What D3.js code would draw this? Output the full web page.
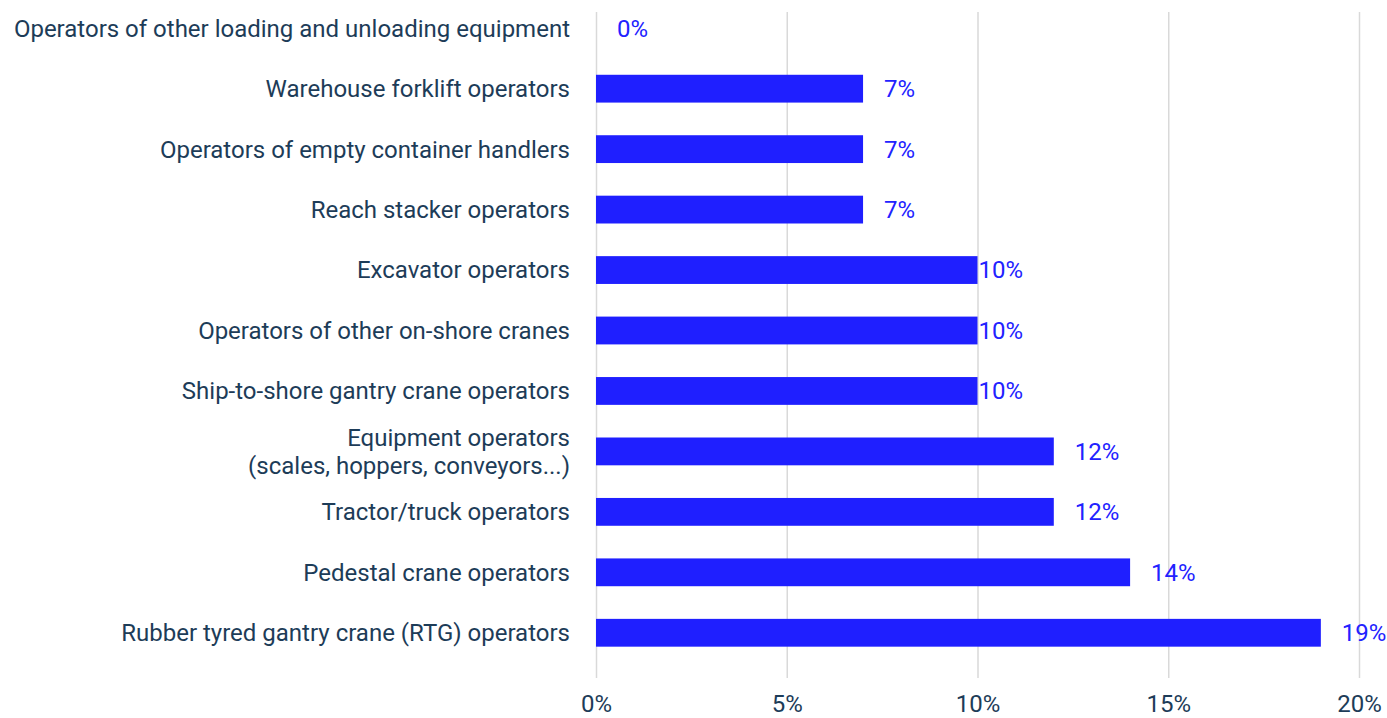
<!DOCTYPE html>
<html>
<head>
<meta charset="utf-8">
<script src="https://cdn.jsdelivr.net/npm/d3@7/dist/d3.min.js"></script>
<style>
  html, body { margin: 0; padding: 0; background: #ffffff; }
  svg { display: block; font-family: Roboto, "Noto Sans", sans-serif; }
</style>
</head>
<body>
<svg id="chart" width="1387" height="718"></svg>
<script>
// Share of respondents by equipment operator role (top to bottom)
const categories = [
  "Operators of other loading and unloading equipment",
  "Warehouse forklift operators",
  "Operators of empty container handlers",
  "Reach stacker operators",
  "Excavator operators",
  "Operators of other on-shore cranes",
  "Ship-to-shore gantry crane operators",
  "Equipment operators\n(scales, hoppers, conveyors...)",
  "Tractor/truck operators",
  "Pedestal crane operators",
  "Rubber tyred gantry crane (RTG) operators"
];
const values = [0, 7, 7, 7, 10, 10, 10, 12, 12, 14, 19];
const tickValues = [0, 5, 10, 15, 20];

const labelColor = "#1d3c58";
const valueColor = "#2222ff";
const barColor = "#1f1fff";
const gridColor = "#d9d9d9";
const fontSize = "24px";

const svg = d3.select("#chart");

const x = d3.scaleLinear().domain([0, 20]).range([596, 1359]);
const y = d3.scaleBand()
  .domain(categories)
  .range([-2, 663])
  .paddingInner(0.54)
  .paddingOuter(0.27);

// vertical gridlines
svg.append("g")
  .selectAll("line")
  .data(tickValues)
  .join("line")
  .attr("x1", d => x(d) + 0.5)
  .attr("x2", d => x(d) + 0.5)
  .attr("y1", 12)
  .attr("y2", 678)
  .attr("stroke", gridColor)
  .attr("stroke-width", 1.5);

// x-axis tick labels
const xAxis = d3.axisBottom(x)
  .tickValues(tickValues)
  .tickFormat(d => d + "%")
  .tickSize(0)
  .tickPadding(0);
const gx = svg.append("g")
  .attr("transform", "translate(0,712)")
  .call(xAxis);
gx.select(".domain").remove();
gx.selectAll("text")
  .attr("dy", "0")
  .attr("fill", labelColor)
  .style("font-size", fontSize)
  .style("font-family", "Roboto, sans-serif");

// bars
svg.append("g")
  .selectAll("rect")
  .data(categories)
  .join("rect")
  .attr("x", x(0))
  .attr("y", d => y(d))
  .attr("width", (d, i) => x(values[i]) - x(0))
  .attr("height", y.bandwidth())
  .attr("fill", barColor);

// value labels
svg.append("g")
  .selectAll("text")
  .data(categories)
  .join("text")
  .attr("x", (d, i) => x(values[i]) + (values[i] === 10 ? 1 : 21))
  .attr("y", d => y(d) + y.bandwidth() / 2)
  .attr("dy", "0.35em")
  .attr("fill", valueColor)
  .style("font-size", fontSize)
  .text((d, i) => values[i] + "%");

// category labels (right-aligned, multi-line where needed)
const catG = svg.append("g");
categories.forEach(c => {
  const lines = c.split("\n");
  const cy = y(c) + y.bandwidth() / 2;
  const lh = 28;
  const t = catG.append("text")
    .attr("x", 570)
    .attr("text-anchor", "end")
    .attr("fill", labelColor)
    .style("font-size", fontSize);
  lines.forEach((ln, k) => {
    t.append("tspan")
      .attr("x", 570)
      .attr("y", cy + (k - (lines.length - 1) / 2) * lh)
      .attr("dy", "0.35em")
      .text(ln);
  });
});
</script>
</body>
</html>
